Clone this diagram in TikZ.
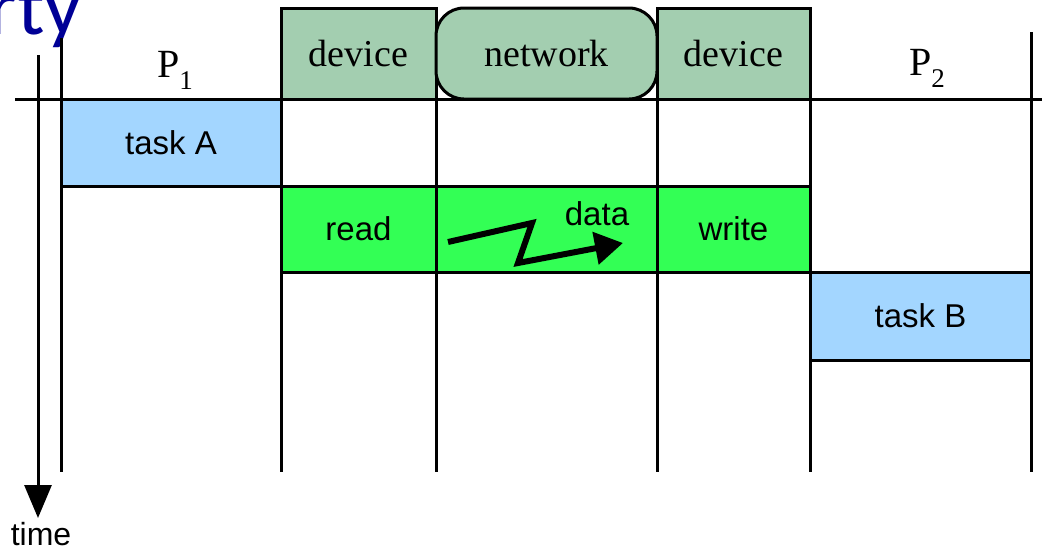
\documentclass[tikz,border=0pt]{standalone}
\usepackage{fontspec}
\setmainfont{Liberation Serif}
\setsansfont{Liberation Sans}
\newfontfamily\titlefont{Carlito}
\usetikzlibrary{arrows.meta}
\definecolor{hdrgreen}{RGB}{163,206,176}
\definecolor{taskblue}{RGB}{163,214,255}
\definecolor{iogreen}{RGB}{51,255,85}
\definecolor{titleblue}{RGB}{0,0,150}
\begin{document}
\begin{tikzpicture}[x=1pt,y=-1pt,
  grid/.style={line width=3pt},
  hdrbox/.style={draw, line width=3pt, fill=hdrgreen, inner sep=0pt, minimum height=91pt,
    font=\fontsize{38}{42}\selectfont},
  taskbox/.style={draw, line width=3pt, fill=taskblue, inner sep=0pt,
    font=\sffamily\fontsize{33}{38}\selectfont},
  iobox/.style={draw, line width=3pt, fill=iogreen, inner sep=0pt, minimum height=86pt,
    font=\sffamily\fontsize{33}{38}\selectfont},
  lbl/.style={inner sep=0pt, font=\sffamily\fontsize{33}{38}\selectfont},
  plbl/.style={inner sep=0pt, anchor=base west, font=\fontsize{40}{44}\selectfont},
]
\useasboundingbox (0,0) rectangle (1042,552);

% slide title, cut by the page edge
\begin{scope}
  \clip (0,0) rectangle (1042,552);
  \node[anchor=base east, inner sep=0pt, text=titleblue,
        font=\titlefont\fontsize{82}{86}\selectfont] (title) at (82,34) {rty};
\end{scope}

% time axis
\coordinate (t0) at (38,55);
\coordinate (t1) at (38,518);
\draw[grid, -{Triangle[length=33pt,width=27pt]}] (t0) -- (t1);
\node[lbl, font=\sffamily\fontsize{32}{36}\selectfont] (time) at (41,534) {time};

% column rules
\draw[grid] (15,99) -- (1042,99);
\draw[grid] (61,38) -- (61,472);
\draw[grid] (281,8) -- (281,472);
\draw[grid] (436,8) -- (436,472);
\draw[grid] (657,8) -- (657,472);
\draw[grid] (810,8) -- (810,472);
\draw[grid] (1031,32) -- (1031,472);

% column headers
\node[plbl] (p1) at (157,77) {P\raisebox{-12pt}{\fontsize{27}{29}\selectfont 1}};
\node[plbl] (p2) at (909,75) {P\raisebox{-12pt}{\fontsize{27}{29}\selectfont 2}};
\node[hdrbox, minimum width=155pt] (dev1) at (358.5,53.5) {device};
\node[hdrbox, minimum width=221pt, rounded corners=28pt] (net) at (546.5,53.5) {network};
\node[hdrbox, minimum width=153pt] (dev2) at (733.5,53.5) {device};

% activity boxes
\node[taskbox, minimum width=220pt, minimum height=87pt] (taskA) at (171,142.5) {task A};
\node[iobox, minimum width=155pt] (read) at (358.5,229) {read};
\node[iobox, minimum width=221pt] (xfer) at (546.5,229) {};
\node[iobox, minimum width=153pt] (write) at (733.5,229) {write};
\node[taskbox, minimum width=221pt, minimum height=88pt] (taskB) at (920.5,316) {task B};

% data transfer across the network
\node[lbl] (data) at (597,214) {data};
\coordinate (z0) at (448,242);
\coordinate (z1) at (532,223);
\coordinate (z2) at (518,263);
\coordinate (z3) at (623,243);
\draw[line width=6pt, line join=miter, -{Triangle[length=28pt,width=32pt]}]
  (z0) -- (z1) -- (z2) -- (z3);
\end{tikzpicture}
\end{document}
